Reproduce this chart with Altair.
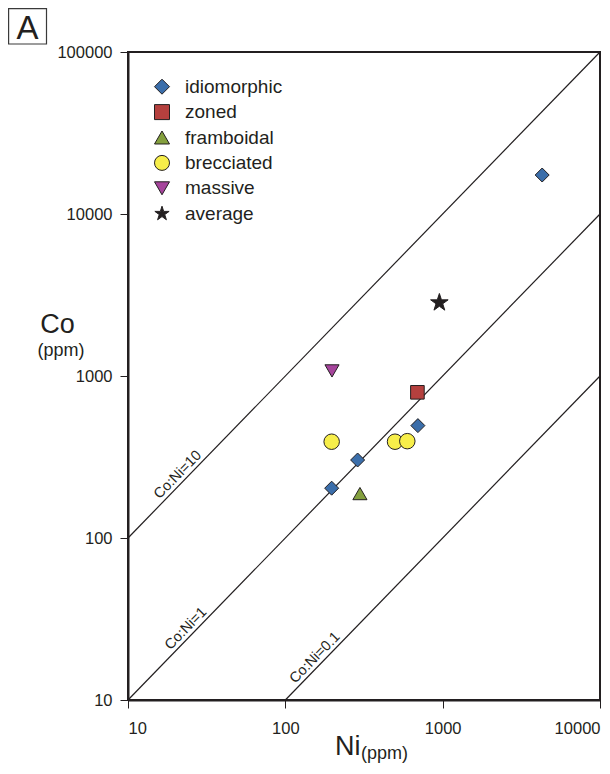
import altair as alt
import pandas as pd

# ---- data ----
categories = ["idiomorphic", "zoned", "framboidal", "brecciated", "massive", "average"]

ni_idiomorphic = [197, 288, 696, 4290]
co_idiomorphic = [203, 303, 494, 17400]
ni_zoned = [691]
co_zoned = [793]
ni_framboidal = [298]
co_framboidal = [188]
ni_brecciated = [197, 498, 596]
co_brecciated = [393, 393, 396]
ni_massive = [198]
co_massive = [1075]
ni_average = [953]
co_average = [2835]

ratio_labels = ["Co:Ni=10", "Co:Ni=1", "Co:Ni=0.1"]
ratio_values = [10, 1, 0.1]
line_ni_start = [10, 10, 100]
line_ni_end = [10000, 10000, 10000]
label_ni = [22.6, 25.4, 168]

x_ticks = [10, 100, 1000, 10000]
y_ticks = [10, 100, 1000, 10000, 100000]

# ---- styles ----
STAR = ("M0,-1L0.2245,-0.309L0.9511,-0.309L0.3633,0.118L0.5878,0.809L0,0.382"
        "L-0.5878,0.809L-0.3633,0.118L-0.9511,-0.309L-0.2245,-0.309Z")
fill_colors = ["#3b6eaa", "#b5403e", "#84a03e", "#f7ee4a", "#a6449c", "#231f20"]
shapes = ["diamond", "square", "triangle-up", "circle", "triangle-down", STAR]
sizes = [196, 185, 200, 240, 200, 340]
INK = "#231f20"
stroke_colors = [INK] * len(categories)
FONT = "Liberation Sans"

# ---- tables ----
rows = []
for cat, nis, cos in [
    ("idiomorphic", ni_idiomorphic, co_idiomorphic),
    ("zoned", ni_zoned, co_zoned),
    ("framboidal", ni_framboidal, co_framboidal),
    ("brecciated", ni_brecciated, co_brecciated),
    ("massive", ni_massive, co_massive),
    ("average", ni_average, co_average),
]:
    for n, c in zip(nis, cos):
        rows.append({"type": cat, "Ni": n, "Co": c})
pts = pd.DataFrame(rows)

line_rows = []
for lab, r, a, b in zip(ratio_labels, ratio_values, line_ni_start, line_ni_end):
    line_rows.append({"ratio": lab, "Ni": a, "Co": r * a})
    line_rows.append({"ratio": lab, "Ni": b, "Co": r * b})
lines_df = pd.DataFrame(line_rows)

lab_df = pd.DataFrame({
    "label": ratio_labels,
    "Ni": label_ni,
    "Co": [r * n for r, n in zip(ratio_values, label_ni)],
})

xscale = alt.Scale(type="log", domain=[10, 10000], nice=False)
yscale = alt.Scale(type="log", domain=[10, 100000], nice=False)

xaxis = alt.Axis(values=x_ticks, format="d", title=None, labelPadding=12)
yaxis = alt.Axis(values=y_ticks, format="d", title=None, labelPadding=8)

lines = alt.Chart(lines_df).mark_line(color=INK, strokeWidth=1.2).encode(
    x=alt.X("Ni:Q", scale=xscale, axis=xaxis),
    y=alt.Y("Co:Q", scale=yscale, axis=yaxis),
    detail="ratio:N",
)

line_labels = alt.Chart(lab_df).mark_text(
    angle=314.3, align="center", baseline="bottom", dy=-1,
    fontSize=14.5, font=FONT, color=INK,
).encode(
    x=alt.X("Ni:Q", scale=xscale),
    y=alt.Y("Co:Q", scale=yscale),
    text="label:N",
)


def make_legend():
    return alt.Legend(
        title=None, orient="none", legendX=24.5, legendY=25.2,
        labelFontSize=19, symbolSize=225, labelOffset=13.5, rowPadding=5.4,
    )


def cat_layer(cat, size):
    return alt.Chart(pts).transform_filter(alt.datum.type == cat).mark_point(
        filled=True, strokeWidth=1, opacity=1, size=size
    ).encode(
        x=alt.X("Ni:Q", scale=xscale),
        y=alt.Y("Co:Q", scale=yscale),
        fill=alt.Fill("type:N", scale=alt.Scale(domain=categories, range=fill_colors),
                      legend=make_legend()),
        shape=alt.Shape("type:N", scale=alt.Scale(domain=categories, range=shapes),
                        legend=make_legend()),
        stroke=alt.Stroke("type:N", scale=alt.Scale(domain=categories, range=stroke_colors),
                          legend=make_legend()),
    )


point_layers = [cat_layer(c, s) for c, s in zip(categories, sizes)]

one = pd.DataFrame({"k": [0]})

box = alt.Chart(one).mark_rect(fill="white", fillOpacity=0, stroke="#3a3a3a", strokeWidth=1.2).encode(
    x=alt.value(-119.4), x2=alt.value(-81.5), y=alt.value(-43.4), y2=alt.value(-8)
)
box_text = alt.Chart(one).mark_text(fontSize=33, font=FONT, color=INK, align="center", baseline="alphabetic").encode(
    x=alt.value(-100.5), y=alt.value(-13), text=alt.value("A")
)

co_t = alt.Chart(one).mark_text(fontSize=27, font=FONT, color=INK, align="center", baseline="alphabetic").encode(
    x=alt.value(-70.5), y=alt.value(281), text=alt.value("Co")
)
co_u = alt.Chart(one).mark_text(fontSize=18, font=FONT, color=INK, align="center", baseline="alphabetic").encode(
    x=alt.value(-67), y=alt.value(304), text=alt.value("(ppm)")
)
ni_t = alt.Chart(one).mark_text(fontSize=27, font=FONT, color=INK, align="left", baseline="alphabetic").encode(
    x=alt.value(207), y=alt.value(703), text=alt.value("Ni")
)
ni_u = alt.Chart(one).mark_text(fontSize=18, font=FONT, color=INK, align="left", baseline="alphabetic").encode(
    x=alt.value(233), y=alt.value(707), text=alt.value("(ppm)")
)

chart = alt.layer(
    lines, line_labels, *point_layers, box, box_text, co_t, co_u, ni_t, ni_u
).properties(
    width=472, height=648,
    autosize=alt.AutoSizeParams(type="none"),
    padding={"left": 120, "top": 44, "right": 2, "bottom": 64},
).configure_view(
    stroke=INK, strokeWidth=2
).configure_axis(
    grid=False, domainColor=INK, domainWidth=2, tickColor=INK, tickWidth=1,
    tickSize=8, labelFontSize=16.5, labelFont=FONT, labelColor=INK,
).configure_legend(
    labelFont=FONT, labelColor=INK, symbolStrokeWidth=1,
)

chart.save("out.html", embed_options={"renderer": "svg", "actions": False})
